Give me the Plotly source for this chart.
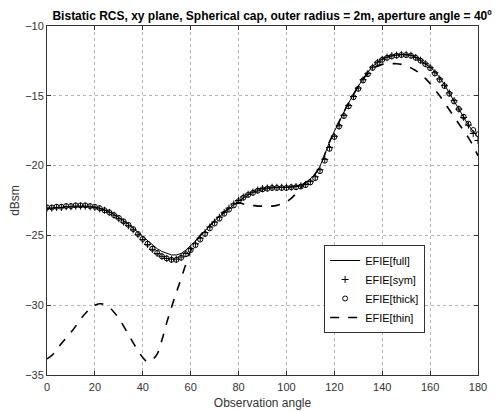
import plotly.graph_objects as go

angles = list(range(0, 181, 2))

efie_full = [
    -23.05, -23.05, -23.0, -23.0, -22.95, -22.95, -22.9, -22.9, -22.9, -22.9,
    -22.95, -23.05, -23.15, -23.3, -23.5, -23.7, -23.95, -24.2, -24.5, -24.8,
    -25.1, -25.4, -25.7, -25.95, -26.15, -26.3, -26.4, -26.4, -26.3, -26.05,
    -25.75, -25.4, -25.05, -24.65, -24.3, -23.95, -23.65, -23.35, -23.05, -22.8,
    -22.55, -22.3, -22.1, -21.9, -21.8, -21.7, -21.65, -21.6, -21.6, -21.55,
    -21.55, -21.5, -21.45, -21.4, -21.2, -20.95, -20.6, -20.05, -19.2, -18.3,
    -17.55, -16.85, -16.15, -15.5, -14.9, -14.3, -13.75, -13.3, -12.9, -12.6,
    -12.38, -12.23, -12.13, -12.08, -12.05, -12.05, -12.1, -12.25, -12.45, -12.7,
    -12.95, -13.25, -13.7, -14.2, -14.8, -15.4, -16.0, -16.6, -17.1, -17.55,
    -17.95,
]

efie_sym = [
    -23.05, -23.05, -23.0, -23.0, -22.95, -22.95, -22.9, -22.9, -22.9, -22.95,
    -23.0, -23.1, -23.2, -23.35, -23.55, -23.8, -24.05, -24.3, -24.6, -24.95,
    -25.3, -25.65, -26.0, -26.3, -26.5, -26.65, -26.7, -26.7, -26.55, -26.3,
    -25.95, -25.6, -25.2, -24.8, -24.4, -24.05, -23.7, -23.35, -23.05, -22.75,
    -22.5, -22.25, -22.05, -21.9, -21.75, -21.65, -21.6, -21.55, -21.55, -21.55,
    -21.55, -21.55, -21.5, -21.45, -21.35, -21.15, -20.8, -20.3, -19.55, -18.7,
    -17.9, -17.15, -16.4, -15.7, -15.05, -14.45, -13.85, -13.4, -12.95, -12.6,
    -12.38, -12.23, -12.13, -12.08, -12.05, -12.05, -12.1, -12.25, -12.45, -12.7,
    -12.98, -13.35, -13.8, -14.25, -14.8, -15.35, -15.95, -16.55, -17.1, -17.7,
    -18.2,
]

efie_thick = [
    -23.0, -23.0, -22.95, -22.95, -22.9, -22.9, -22.85, -22.85, -22.85, -22.9,
    -22.95, -23.05, -23.2, -23.35, -23.55, -23.75, -24.0, -24.25, -24.55, -24.9,
    -25.25, -25.6, -25.95, -26.25, -26.5, -26.65, -26.75, -26.75, -26.6, -26.35,
    -26.05, -25.7, -25.3, -24.9, -24.5, -24.15, -23.8, -23.45, -23.15, -22.85,
    -22.55, -22.3, -22.1, -21.95, -21.8, -21.7, -21.65, -21.6, -21.6, -21.6,
    -21.6, -21.55, -21.55, -21.5, -21.4, -21.2, -20.9, -20.4, -19.65, -18.8,
    -17.95, -17.2, -16.45, -15.75, -15.1, -14.5, -13.9, -13.45, -13.0, -12.65,
    -12.42, -12.28, -12.18, -12.12, -12.08, -12.08, -12.13, -12.28, -12.48, -12.73,
    -13.02, -13.4, -13.85, -14.3, -14.85, -15.4, -15.95, -16.5, -17.0, -17.45,
    -17.75,
]

efie_thin = [
    -33.85, -33.6, -33.2, -32.75, -32.35, -31.95, -31.5, -31.0, -30.6, -30.25,
    -30.0, -29.9, -29.95, -30.15, -30.5, -30.95, -31.5, -32.1, -32.7, -33.25,
    -33.75, -34.05, -33.9, -33.5, -32.5, -31.25, -30.15, -29.1, -28.1, -27.05,
    -26.1, -25.45, -25.0, -24.65, -24.3, -23.95, -23.65, -23.35, -23.05, -22.8,
    -22.65, -22.75, -22.8, -22.85, -22.9, -22.9, -22.9, -22.9, -22.85, -22.75,
    -22.6, -22.35, -22.0, -21.6, -21.2, -20.95, -20.6, -20.05, -19.2, -18.3,
    -17.55, -16.85, -16.15, -15.5, -14.9, -14.3, -13.8, -13.4, -13.05, -12.88,
    -12.75, -12.7, -12.7, -12.7, -12.75, -12.85, -13.0, -13.2, -13.42, -13.75,
    -14.12, -14.55, -15.0, -15.5, -16.0, -16.5, -17.0, -17.5, -18.0, -18.6,
    -19.3,
]

x_ticks = [0, 20, 40, 60, 80, 100, 120, 140, 160, 180]
y_ticks = [-35, -30, -25, -20, -15, -10]

FONT = "Liberation Sans, Arial"

fig = go.Figure()
fig.add_trace(go.Scatter(x=angles, y=efie_full, mode="lines", name="EFIE[full]",
                         line=dict(color="black", width=1)))
fig.add_trace(go.Scatter(x=angles, y=efie_sym, mode="markers", name="EFIE[sym]",
                         marker=dict(symbol="cross-thin-open", size=5, color="black",
                                     line=dict(color="black", width=1))))
fig.add_trace(go.Scatter(x=angles, y=efie_thick, mode="markers", name="EFIE[thick]",
                         marker=dict(symbol="circle-open", size=5, color="black",
                                     line=dict(color="black", width=1))))
fig.add_trace(go.Scatter(x=angles, y=efie_thin, mode="lines", name="EFIE[thin]",
                         line=dict(color="black", width=1.6, dash="dash", shape="spline")))

axis_common = dict(
    showline=True, linecolor="#333333", linewidth=1, mirror="ticks",
    ticks="inside", ticklen=4, tickcolor="#333333",
    showgrid=True, gridcolor="#b5b5b5", griddash="dot", gridwidth=1,
    zeroline=False, automargin=False,
    tickfont=dict(family=FONT, size=11, color="#333333"),
)

fig.update_layout(
    width=503, height=412,
    margin=dict(l=38.5, r=33, t=18, b=45),
    paper_bgcolor="white", plot_bgcolor="white",
    title=dict(text="<b>Bistatic RCS, xy plane, Spherical cap, outer radius = 2m, aperture angle = 40º</b>",
               x=0.525, xanchor="center", y=0.982, yanchor="middle", yref="container",
               font=dict(family=FONT, size=12.0, color="black")),
    xaxis=dict(range=[0, 180], tickvals=x_ticks, ticklabelstandoff=2,
               title=dict(text="Observation angle", standoff=6,
                          font=dict(family=FONT, size=12, color="#333333")),
               **axis_common),
    yaxis=dict(range=[-35, -10], tickvals=y_ticks,
               title=dict(text="dBsm", standoff=6,
                          font=dict(family=FONT, size=12, color="#333333")),
               **axis_common),
    showlegend=True,
    legend=dict(x=0.643, y=0.3725, xanchor="left", yanchor="top",
                bgcolor="white", bordercolor="#333333", borderwidth=1,
                font=dict(family=FONT, size=11, color="black"),
                tracegroupgap=0, itemwidth=30),
)

fig.write_html("out.html")
